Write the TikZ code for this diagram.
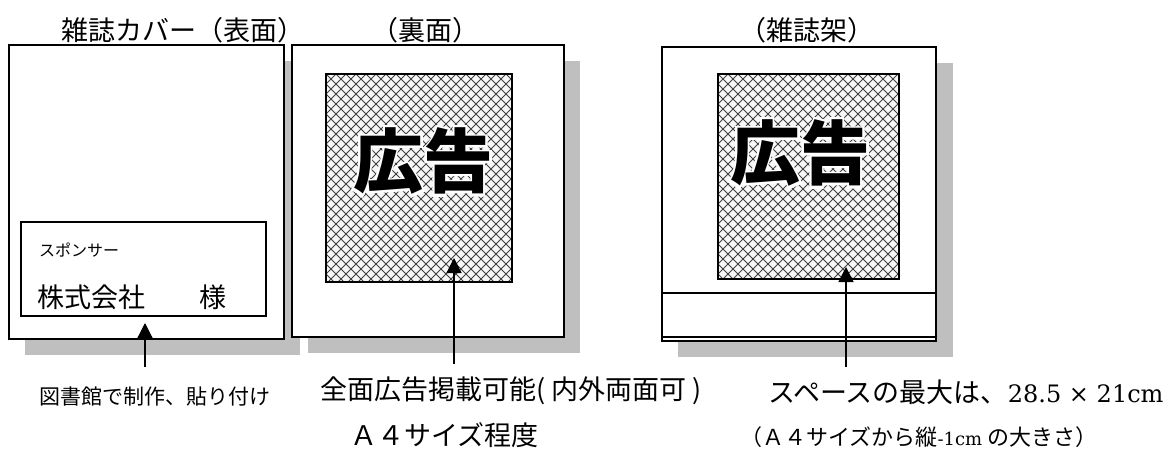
\documentclass[tikz,border=0pt]{standalone}
\usepackage{fontspec}
\newfontfamily\jp{Noto Sans CJK JP}
\newfontfamily\adhalo[FakeBold=8]{Noto Sans CJK JP Bold}
\newfontfamily\num{DejaVu Serif}
\usetikzlibrary{arrows.meta,calc}
\definecolor{shade}{gray}{0.75}
\tikzstyle{box}       = [draw,line width=1.2pt,fill=white]
\tikzstyle{rule}      = [line width=1.2pt]
\tikzstyle{shadow}    = [fill=shade]
\tikzstyle{hatchbg}   = [fill=white!97!black]
\tikzstyle{hatchline} = [draw=black!75,line width=1pt]
\tikzstyle{pointer}   = [line width=1.2pt,-{Triangle[width=15pt,length=15pt]}]
\tikzstyle{title}     = [inner sep=0pt,anchor=west,font=\jp\fontsize{27pt}{32pt}\selectfont]
\tikzstyle{small}     = [inner sep=0pt,anchor=west,font=\jp\fontsize{21pt}{25pt}\selectfont]
\tikzstyle{tiny}      = [inner sep=0pt,anchor=west,font=\jp\fontsize{16pt}{19pt}\selectfont]
\tikzstyle{adword}    = [inner sep=0pt,font=\jp\bfseries\fontsize{70pt}{80pt}\selectfont]
\tikzstyle{adglow}    = [inner sep=0pt,text=white,font=\adhalo\fontsize{70pt}{80pt}\selectfont]
% crosshatched advert area: left, top, right, bottom
\newcommand{\hatchbox}[4]{%
  \fill[hatchbg] (#1,#2) rectangle (#3,#4);
  \begin{scope}
    \clip (#1,#2) rectangle (#3,#4);
    \foreach \k in {0,10,...,410} {
      \draw[hatchline] (#1-210+\k,#2) -- ++(215,215);
      \draw[hatchline] (#1+\k,#2) -- ++(-215,215);
    }
  \end{scope}
  \draw[rule] (#1,#2) rectangle (#3,#4);
}
\begin{document}
\begin{tikzpicture}[x=1pt,y=-1pt]
    \useasboundingbox (0,0) rectangle (1173,455);
    % front cover
    \fill[shadow] (25,61) rectangle (300,355);
    \draw[box] (9,45) rectangle (284,339);
    \draw[box] (21,222) rectangle (266,316);
    \node[title] (frontTitle) at (61,30) {雑誌カバー（表面）};
    \node[tiny] (sponsor) at (39,250) {スポンサー};
    \node[title] (company) at (37,297) {株式会社};
    \node[title] (sama) at (199,297) {様};
    % back cover
    \fill[shadow] (308,61) rectangle (580,353);
    \draw[box] (292,45) rectangle (564,337);
    \hatchbox{326}{74}{512}{282}
    \node[title,anchor=center] (backTitle) at (425,30) {（裏面）};
    % magazine shelf
    \fill[shadow] (678,63) rectangle (953,357);
    \draw[box] (662,47) rectangle (936,341);
    \draw[rule] (662,293) -- (936,293);
    \draw[rule] (662,337) -- (936,337);
    \hatchbox{718}{74}{899}{279}
    \node[title,anchor=center] (shelfTitle) at (807,30) {（雑誌架）};
    % advert lettering with white halo
    \coordinate (adBack) at (423,161);
    \coordinate (adShelf) at (800,153);
    \foreach \c in {adBack,adShelf} {
      \node[adglow] at (\c) {広告};
      \node[adword] (\c Word) at (\c) {広告};
    }
    % notes
    \node[small] (madeBy) at (39,397) {図書館で制作、貼り付け};
    \node[title] (fullAd) at (320,391) {全面広告掲載可能( 内外両面可 )};
    \node[title] (sizeA4) at (350,435) {Ａ４サイズ程度};
    \node[title] (maxSpace) at (768,392) {スペースの最大は、{\num\fontsize{24pt}{28pt}\selectfont 28.5 × 21cm}};
    \node[small,font=\jp\fontsize{22pt}{26pt}\selectfont] (maxNote) at (740,437) {（Ａ４サイズから縦{\num\fontsize{18pt}{22pt}\selectfont -1cm} の大きさ）};
    % pointers
    \coordinate (madeByTail) at (145,367);
    \coordinate (madeByTip) at (145,323);
    \coordinate (fullAdTail) at (454,364);
    \coordinate (fullAdTip) at (454,258);
    \coordinate (maxSpaceTail) at (846,367);
    \coordinate (maxSpaceTip) at (846,267);
    \draw[pointer] (madeByTail) -- (madeByTip);
    \draw[pointer] (fullAdTail) -- (fullAdTip);
    \draw[pointer] (maxSpaceTail) -- (maxSpaceTip);
\end{tikzpicture}
\end{document}
